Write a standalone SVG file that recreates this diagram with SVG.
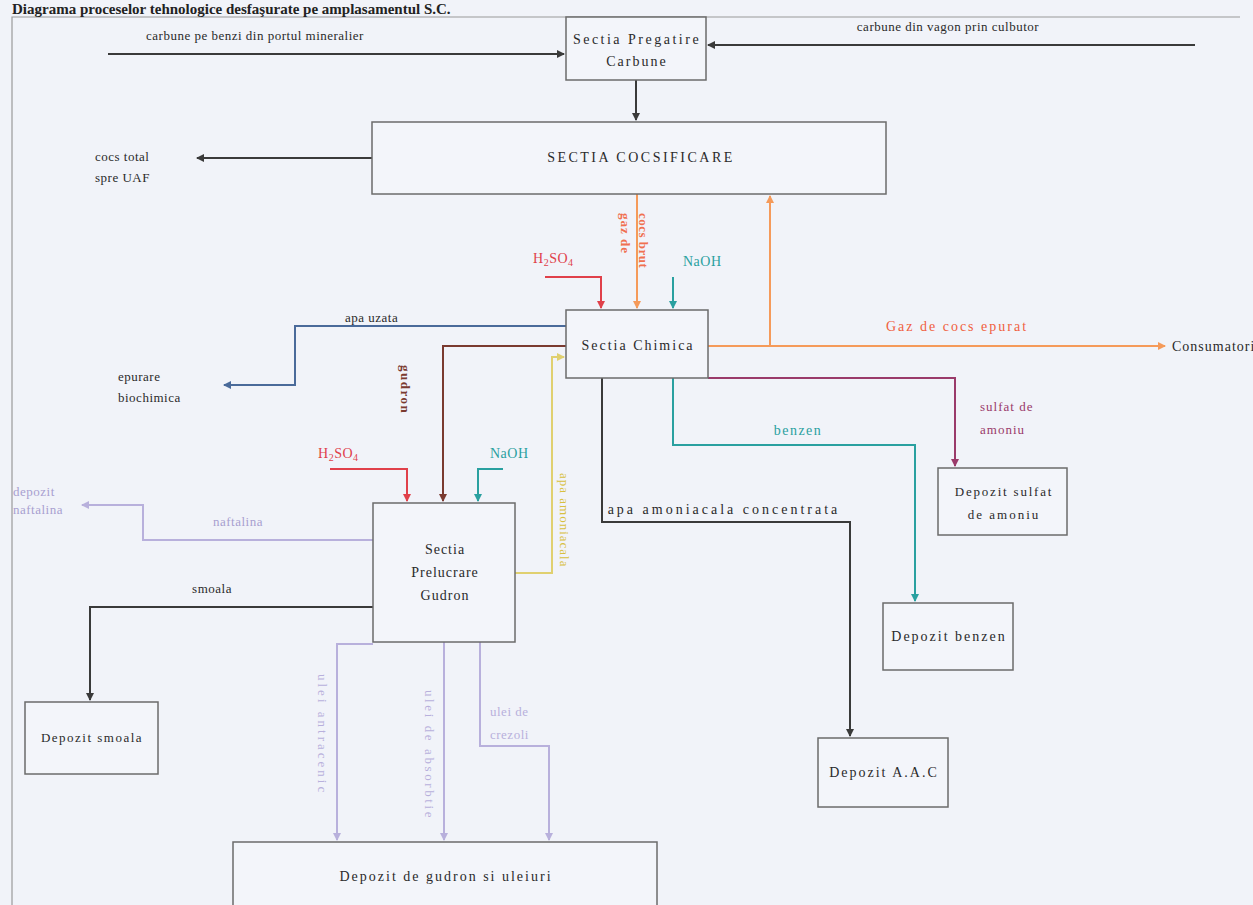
<svg xmlns="http://www.w3.org/2000/svg" width="1253" height="905" viewBox="0 0 1253 905">
  <defs>
    <style>
      text { font-family: "Liberation Serif", "DejaVu Serif", serif; font-size: 13px; fill: #2a2a2a; letter-spacing: 0.5px; }
      .bx { font-size: 14px; letter-spacing: 2px; }
      .wide { letter-spacing: 2.5px; }
      .box { fill: #f3f5fa; stroke: #6b6b6b; stroke-width: 1.5; }
      .c { text-anchor: middle; }
      .ln { fill: none; stroke-width: 2; }
      .k { stroke: #3a3a3a; }
      .bl { stroke: #4a6a9a; }
      .rd { stroke: #e0404a; }
      .br { stroke: #7a3a30; }
      .or { stroke: #f59a5a; }
      .tl { stroke: #2aa0a0; }
      .pu { stroke: #9a3a6a; }
      .ye { stroke: #e0d070; }
      .lv { stroke: #b8b0dc; }
    </style>
    <marker id="ak" markerWidth="8" markerHeight="8" refX="7" refY="4" orient="auto" markerUnits="userSpaceOnUse"><path d="M0,0 L8,4 L0,8 z" fill="#3a3a3a"/></marker>
    <marker id="abl" markerWidth="8" markerHeight="8" refX="7" refY="4" orient="auto" markerUnits="userSpaceOnUse"><path d="M0,0 L8,4 L0,8 z" fill="#4a6a9a"/></marker>
    <marker id="ard" markerWidth="8" markerHeight="8" refX="7" refY="4" orient="auto" markerUnits="userSpaceOnUse"><path d="M0,0 L8,4 L0,8 z" fill="#e0404a"/></marker>
    <marker id="abr" markerWidth="8" markerHeight="8" refX="7" refY="4" orient="auto" markerUnits="userSpaceOnUse"><path d="M0,0 L8,4 L0,8 z" fill="#7a3a30"/></marker>
    <marker id="aor" markerWidth="8" markerHeight="8" refX="7" refY="4" orient="auto" markerUnits="userSpaceOnUse"><path d="M0,0 L8,4 L0,8 z" fill="#f59a5a"/></marker>
    <marker id="atl" markerWidth="8" markerHeight="8" refX="7" refY="4" orient="auto" markerUnits="userSpaceOnUse"><path d="M0,0 L8,4 L0,8 z" fill="#2aa0a0"/></marker>
    <marker id="apu" markerWidth="8" markerHeight="8" refX="7" refY="4" orient="auto" markerUnits="userSpaceOnUse"><path d="M0,0 L8,4 L0,8 z" fill="#9a3a6a"/></marker>
    <marker id="aye" markerWidth="8" markerHeight="8" refX="7" refY="4" orient="auto" markerUnits="userSpaceOnUse"><path d="M0,0 L8,4 L0,8 z" fill="#e0d070"/></marker>
    <marker id="alv" markerWidth="8" markerHeight="8" refX="7" refY="4" orient="auto" markerUnits="userSpaceOnUse"><path d="M0,0 L8,4 L0,8 z" fill="#b8b0dc"/></marker>
  </defs>

  <rect width="1253" height="905" fill="#f1f3f9"/>
  <!-- page frame -->
  <path d="M12,905 V17 H1240" fill="none" stroke="#9a9a9a" stroke-width="1.2"/>
  <text x="12" y="14" style="font-size:15px;font-weight:bold;fill:#222;letter-spacing:0">Diagrama proceselor tehnologice desfaşurate pe amplasamentul S.C.</text>

  <!-- connectors -->
  <g id="connectors">
    <path class="ln k" d="M108,54 H564" marker-end="url(#ak)"/>
    <path class="ln k" d="M1195,45 H708" marker-end="url(#ak)"/>
    <path class="ln k" d="M636,80 V120" marker-end="url(#ak)"/>
    <path class="ln k" d="M372,158 H197" marker-end="url(#ak)"/>
    <path class="ln or" d="M637,194 V308" marker-end="url(#aor)"/>
    <path class="ln rd" d="M545,277 H601 V308" marker-end="url(#ard)"/>
    <path class="ln tl" d="M673,277 V308" marker-end="url(#atl)"/>
    <path class="ln or" d="M708,346 H1165" marker-end="url(#aor)"/>
    <path class="ln or" d="M770,346 V196" marker-end="url(#aor)"/>
    <path class="ln bl" d="M566,326 H295 V385 H224" marker-end="url(#abl)"/>
    <path class="ln br" d="M566,346 H443 V501" marker-end="url(#abr)"/>
    <path class="ln ye" d="M515,573 H552 V357 H564" marker-end="url(#aye)"/>
    <path class="ln rd" d="M330,469 H407 V501" marker-end="url(#ard)"/>
    <path class="ln tl" d="M503,469 H478 V501" marker-end="url(#atl)"/>
    <path class="ln lv" d="M373,540 H143 V505 H82" marker-end="url(#alv)"/>
    <path class="ln k" d="M373,607 H90 V700" marker-end="url(#ak)"/>
    <path class="ln lv" d="M373,644 H337 V840" marker-end="url(#alv)"/>
    <path class="ln lv" d="M444,642 V840" marker-end="url(#alv)"/>
    <path class="ln lv" d="M480,642 V746 H549 V840" marker-end="url(#alv)"/>
    <path class="ln k" d="M602,378 V522 H850 V736" marker-end="url(#ak)"/>
    <path class="ln tl" d="M673,378 V445 H915 V601" marker-end="url(#atl)"/>
    <path class="ln pu" d="M708,378 H955 V466" marker-end="url(#apu)"/>
  </g>

  <!-- connector labels -->
  <g id="labels">
    <text x="255" y="40" class="c">carbune pe benzi din portul mineralier</text>
    <text x="948" y="31" class="c">carbune din vagon prin culbutor</text>
    <text x="95" y="161">cocs total</text>
    <text x="95" y="182">spre UAF</text>
    <text x="533" y="263" style="fill:#e0404a;font-size:14px">H<tspan dy="3" style="font-size:10px">2</tspan><tspan dy="-3">SO</tspan><tspan dy="3" style="font-size:10px">4</tspan></text>
    <text x="683" y="266" style="fill:#2aa0a0;font-size:14px">NaOH</text>
    <text transform="translate(621,213) rotate(90)" style="fill:#f07050;font-weight:bold;letter-spacing:1px">gaz de</text>
    <text transform="translate(639,213) rotate(90)" style="fill:#f07050;font-weight:bold;letter-spacing:0.5px">cocs brut</text>
    <text x="957" y="331" class="c bx" style="fill:#f06040">Gaz de cocs epurat</text>
    <text x="1172" y="351" style="font-size:14px;letter-spacing:1px">Consumatori</text>
    <text x="345" y="322">apa uzata</text>
    <text x="118" y="381">epurare</text>
    <text x="118" y="402">biochimica</text>
    <text transform="translate(401,365) rotate(90)" style="fill:#7a3a30;font-weight:bold;letter-spacing:1.5px">gudron</text>
    <text transform="translate(560,473) rotate(90)" style="fill:#d8c040;letter-spacing:1px">apa amoniacala</text>
    <text x="318" y="458" style="fill:#e0404a;font-size:14px">H<tspan dy="3" style="font-size:10px">2</tspan><tspan dy="-3">SO</tspan><tspan dy="3" style="font-size:10px">4</tspan></text>
    <text x="490" y="458" style="fill:#2aa0a0;font-size:14px">NaOH</text>
    <text x="13" y="496" style="fill:#a8a0d0">depozit</text>
    <text x="13" y="514" style="fill:#a8a0d0">naftalina</text>
    <text x="238" y="526" class="c" style="fill:#a8a0d0">naftalina</text>
    <text x="212" y="593" class="c">smoala</text>
    <text transform="translate(318,674) rotate(90)" style="fill:#b8b0dc;letter-spacing:3px">ulei antracenic</text>
    <text transform="translate(425,690) rotate(90)" style="fill:#b8b0dc;letter-spacing:2.6px">ulei de absorbtie</text>
    <text x="490" y="716" style="fill:#b8b0dc">ulei de</text>
    <text x="490" y="739" style="fill:#b8b0dc">crezoli</text>
    <text x="724" y="514" class="c" style="font-size:14px;letter-spacing:3px">apa amoniacala concentrata</text>
    <text x="798" y="435" class="c" style="fill:#2aa0a0;font-size:14px;letter-spacing:1.5px">benzen</text>
    <text x="980" y="411" style="fill:#9a3a6a;letter-spacing:1px">sulfat de</text>
    <text x="980" y="434" style="fill:#9a3a6a;letter-spacing:1px">amoniu</text>
  </g>

  <!-- nodes -->
  <g id="pregatire">
    <rect class="box" x="566" y="17" width="140" height="63"/>
    <text x="637" y="44" class="c bx wide">Sectia Pregatire</text>
    <text x="637" y="66" class="c bx">Carbune</text>
  </g>
  <g id="cocsificare">
    <rect class="box" x="372" y="122" width="514" height="72"/>
    <text x="641" y="162" class="c bx wide">SECTIA COCSIFICARE</text>
  </g>
  <g id="chimica">
    <rect class="box" x="566" y="310" width="142" height="68"/>
    <text x="638" y="350" class="c bx">Sectia Chimica</text>
  </g>
  <g id="gudron">
    <rect class="box" x="373" y="503" width="142" height="139"/>
    <text x="445" y="554" class="c bx" style="letter-spacing:1px">Sectia</text>
    <text x="445" y="577" class="c bx" style="letter-spacing:1px">Prelucrare</text>
    <text x="445" y="600" class="c bx" style="letter-spacing:1px">Gudron</text>
  </g>
  <g id="depozit-sulfat">
    <rect class="box" x="938" y="468" width="129" height="67"/>
    <text x="1004" y="496" class="c" style="letter-spacing:1.8px">Depozit sulfat</text>
    <text x="1004" y="519" class="c" style="letter-spacing:2px">de amoniu</text>
  </g>
  <g id="depozit-benzen">
    <rect class="box" x="883" y="603" width="130" height="67"/>
    <text x="949" y="641" class="c bx">Depozit benzen</text>
  </g>
  <g id="depozit-aac">
    <rect class="box" x="818" y="738" width="130" height="69"/>
    <text x="884" y="777" class="c bx">Depozit A.A.C</text>
  </g>
  <g id="depozit-smoala">
    <rect class="box" x="25" y="702" width="133" height="72"/>
    <text x="92" y="742" class="c" style="letter-spacing:1.5px">Depozit smoala</text>
  </g>
  <g id="depozit-uleiuri">
    <rect class="box" x="233" y="842" width="424" height="75"/>
    <text x="446" y="881" class="c bx">Depozit de gudron si uleiuri</text>
  </g>
</svg>
